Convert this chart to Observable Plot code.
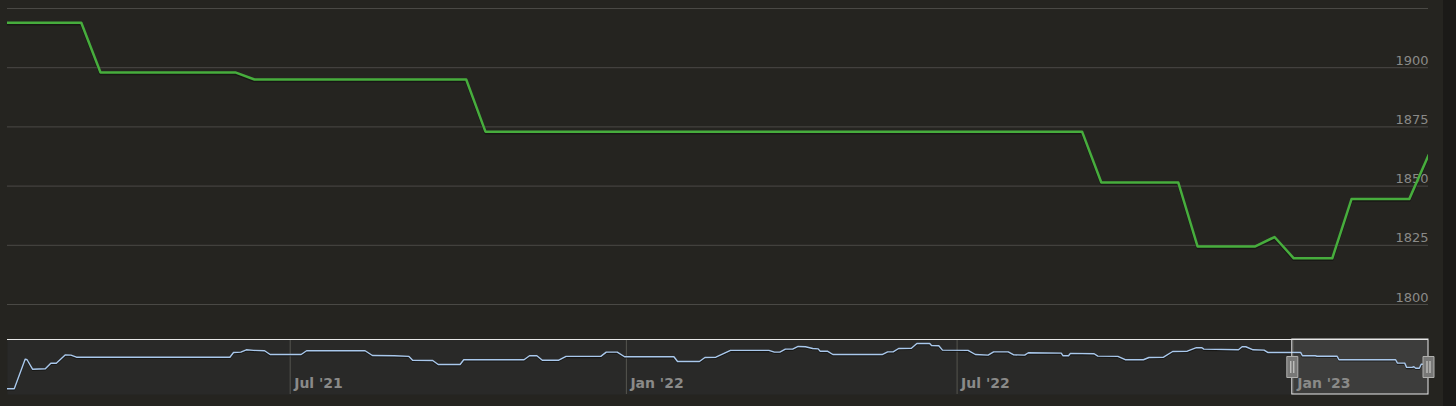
<!DOCTYPE html>
<html><head><meta charset="utf-8">
<script src="https://cdn.jsdelivr.net/npm/d3@7"></script>
<script src="https://cdn.jsdelivr.net/npm/@observablehq/plot@0.6"></script>
<style>
html,body{margin:0;padding:0;background:#252420;}
#wrap{position:relative;width:1456px;height:406px;overflow:hidden;background:#252420;}
#edge{position:absolute;left:1443px;top:0;width:13px;height:406px;background:#1b1a18;}
#wrap svg{display:block;}
</style></head>
<body><div id="wrap"><div id="main"></div><div id="nav"></div><div id="edge"></div></div>
<script>
// ---- main (selected range) series ----
const mainDates = ["2023-01-01","2023-01-05","2023-01-06","2023-01-13","2023-01-14","2023-01-25","2023-01-26","2023-02-26","2023-02-27","2023-03-03","2023-03-04","2023-03-07","2023-03-08","2023-03-09","2023-03-11","2023-03-12","2023-03-15","2023-03-16"];
const mainValues = [1919,1919,1898,1898,1895,1895,1873,1873,1851.5,1851.5,1824.5,1824.5,1828.5,1819.5,1819.5,1844.5,1844.5,1863];
const mainXDomain = ["2023-01-01T04:00Z","2023-03-16T00:00Z"];
const yTicks = [1800,1825,1850,1875,1900,1925];
const yLabelMax = 1900;

// ---- navigator history series ----
const navDates = [
"2021-01-27","2021-01-31","2021-02-06","2021-02-07","2021-02-10","2021-02-17","2021-02-20","2021-02-23","2021-02-28","2021-03-03","2021-03-06",
"2021-05-29","2021-05-31","2021-06-04","2021-06-07","2021-06-11","2021-06-17","2021-06-20","2021-07-07","2021-07-10","2021-08-11","2021-08-15","2021-08-27","2021-09-04","2021-09-06","2021-09-17","2021-09-20","2021-10-02","2021-10-04","2021-11-06","2021-11-09","2021-11-13","2021-11-16","2021-11-25","2021-11-29","2021-12-18","2021-12-21","2021-12-27","2021-12-31",
"2022-01-27","2022-01-29","2022-02-10","2022-02-13","2022-02-19","2022-02-27","2022-03-20","2022-03-23","2022-03-26","2022-03-29",
"2022-04-02","2022-04-05","2022-04-09","2022-04-13","2022-04-16","2022-04-17","2022-04-21","2022-04-24",
"2022-05-21","2022-05-24","2022-05-27","2022-05-30",
"2022-06-06","2022-06-09","2022-06-16","2022-06-17","2022-06-21","2022-06-23",
"2022-07-07","2022-07-11","2022-07-18","2022-07-21","2022-07-29",
"2022-08-01","2022-08-07","2022-08-09","2022-08-27","2022-08-28","2022-08-31",
"2022-09-01","2022-09-14","2022-09-16","2022-09-27",
"2022-10-01","2022-10-11","2022-10-14","2022-10-22","2022-10-27",
"2022-11-04","2022-11-09","2022-11-12","2022-11-13",
"2022-12-02","2022-12-04","2022-12-06","2022-12-10","2022-12-16","2022-12-18"];
const navValues = [
1689,1689,1877,1873,1813,1816,1851,1851,1904,1902,1889,
1889,1919,1921,1936,1932,1930,1906,1906,1930,1930,1900,1898,1894,1870,1868,1843,1843,1873,1873,1898,1898,1870,1870,1894,1894,1921,1921,1892,
1892,1862,1862,1887,1889,1932,1932,1921,1921,1940,
1940,1957,1955,1944,1942,1927,1927,1906,
1906,1923,1923,1944,
1946,1976,1976,1963,1961,1934,
1932,1906,1902,1923,1923,
1904,1902,1917,1915,1898,1898,
1913,1911,1896,1894,
1873,1873,1887,1889,1925,
1927,1949,1949,1940,
1936,1955,1955,1936,1934,1919];
const navXDomain = ["2021-01-27T07:00Z","2023-03-16T00:00Z"];
const navYDomain = [1653,2001];
const navTickDates = ["2021-07-01","2022-01-01","2022-07-01","2023-01-01"];
const navTickLabels = ["Jul '21","Jan '22","Jul '22","Jan '23"];
const selection = ["2022-12-31T11:00Z","2023-03-16T00:00Z"];

// ---- build ----
const main = mainDates.map((d,i)=>({date:new Date(d), value:mainValues[i]}));
const nav = navDates.map((d,i)=>({date:new Date(d), value:navValues[i]})).concat(main);
const mx = mainXDomain.map(d=>new Date(d));
const nx = navXDomain.map(d=>new Date(d));
const sel = [{x1:new Date(selection[0]), x2:new Date(selection[1])}];
const ticks = navTickDates.map((d,i)=>({date:new Date(d), label:navTickLabels[i]}));

const mainPlot = Plot.plot({
  width:1456, height:338,
  marginLeft:7, marginRight:28, marginTop:8, marginBottom:34,
  x:{type:"utc", domain:mx, axis:null},
  y:{domain:[1800,1925], axis:null},
  style:{background:"transparent", fontFamily:"'DejaVu Sans', sans-serif"},
  marks:[
    Plot.ruleY(yTicks, {stroke:"#4a4945", strokeWidth:1}),
    Plot.text(yTicks.filter(t=>t<=yLabelMax), {x:()=>mx[1], y:d=>d, text:d=>String(d), textAnchor:"end", lineAnchor:"middle", dy:-7, fill:"#8a8a88", fontSize:13}),
    Plot.line(main, {x:"date", y:"value", stroke:"#0e0e0c", strokeOpacity:0.55, strokeWidth:2.5, dy:1.5, clip:true}),
    Plot.line(main, {x:"date", y:"value", stroke:"#47ad3d", strokeWidth:2.5, clip:true})
  ]
});
document.getElementById("main").appendChild(mainPlot);

const handleBox = {draw(ctx){ ctx.rect(-5.5,-10.5,11,21); }};
const handleGrip = {draw(ctx){ ctx.moveTo(-1.5,-6); ctx.lineTo(-1.5,6); ctx.moveTo(1.5,-6); ctx.lineTo(1.5,6); }};
const handles = [sel[0].x1, sel[0].x2];

const navPlot = Plot.plot({
  width:1456, height:68,
  marginLeft:7, marginRight:28, marginTop:1, marginBottom:12,
  x:{type:"utc", domain:nx, axis:null},
  y:{domain:navYDomain, axis:null},
  style:{background:"transparent", fontFamily:"'DejaVu Sans', sans-serif"},
  marks:[
    Plot.frame({fill:"#292928", stroke:"none"}),
    Plot.rect(sel, {x1:"x1", x2:"x2", y1:navYDomain[0], y2:navYDomain[1], fill:"#3d3d3c"}),
    Plot.ruleX(ticks, {x:"date", stroke:"#55554f", strokeWidth:1}),
    Plot.text(ticks, {x:"date", text:"label", frameAnchor:"bottom", lineAnchor:"middle", textAnchor:"start", dx:4, dy:-10.5, fill:"#8a8a88", fontSize:14, fontWeight:"bold"}),
    Plot.line(nav, {x:"date", y:"value", stroke:"#0b0b0a", strokeOpacity:0.6, strokeWidth:1.5, dy:1, clip:true}),
    Plot.line(nav, {x:"date", y:"value", stroke:"#a9c8ec", strokeWidth:1.4, clip:true}),
    Plot.ruleY([navYDomain[1]], {stroke:"#e8e8e8", strokeWidth:1}),
    Plot.rect(sel, {x1:"x1", x2:"x2", y1:navYDomain[0], y2:navYDomain[1], fill:"none", stroke:"#e8e8e8", strokeWidth:1}),
    Plot.dot(handles, {x:d=>d, frameAnchor:"middle", symbol:handleBox, r:5, fill:"#787877", stroke:"#b0b0ae", strokeWidth:1}),
    Plot.dot(handles, {x:d=>d, frameAnchor:"middle", symbol:handleGrip, r:5, fill:"none", stroke:"#d8d8d6", strokeWidth:1})
  ]
});
document.getElementById("nav").appendChild(navPlot);
</script>
</body></html>
